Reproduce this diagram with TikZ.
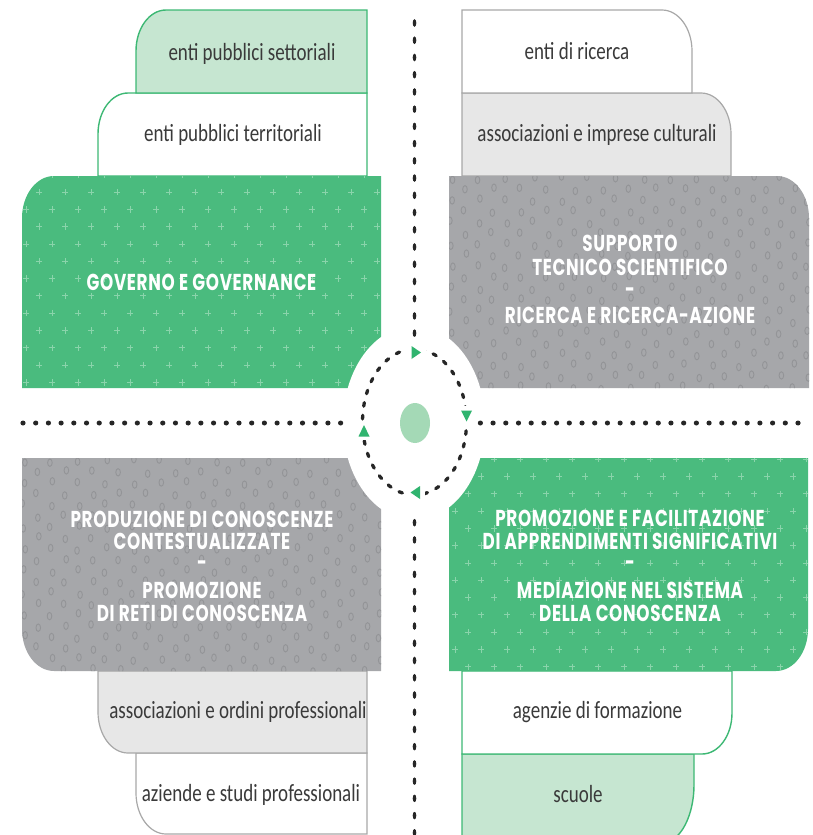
\documentclass[tikz,border=0pt]{standalone}
\usepackage{fontspec}
\setmainfont{Carlito}
\newfontfamily\headfont{Poppins}[LetterSpace=4]
\definecolor{gbig}{HTML}{4ABB7E}
\definecolor{glight}{HTML}{C6E6D1}
\definecolor{gline}{HTML}{3DB874}
\definecolor{graybig}{HTML}{A6A7AA}
\definecolor{graylight}{HTML}{E7E7E7}
\definecolor{grayline}{HTML}{A8A8A8}
\definecolor{txt}{HTML}{3A3A3A}
\definecolor{dotc}{HTML}{262626}
\definecolor{cdot}{HTML}{A4D9B6}
\definecolor{garrow}{HTML}{30B46F}
\definecolor{crossc}{HTML}{8AD4AB}
\definecolor{circc}{HTML}{939497}
\newcommand\myLbl[1]{\scalebox{1}[1.3]{#1}}
\newcommand\myHead[1]{\scalebox{1}[1.37]{#1}}
\newcommand\crossgrid[3]{%
  \foreach \j in {0,...,#3}{
    \pgfmathsetmacro\yy{#2+17.3*\j}
    \pgfmathsetmacro\xo{#1+13*mod(\j,2)}
    \foreach \i in {0,...,14}{
      \pgfmathsetmacro\xx{\xo+26*\i}
      \draw[crossst] (\xx-2.6,\yy) -- (\xx+2.6,\yy) (\xx,\yy-3.2) -- (\xx,\yy+3.2);
    }}}
\newcommand\circgrid[3]{%
  \foreach \j in {0,...,#3}{
    \pgfmathsetmacro\yy{#2+11*\j}
    \pgfmathsetmacro\xo{#1+13.7*mod(\j,2)}
    \foreach \i in {0,...,14}{
      \pgfmathsetmacro\xx{\xo+27.4*\i+1.6*sin(97*\i+131*\j)}
      \pgfmathsetmacro\yj{\yy+1.8*sin(37*\i+59*\j+13*\i*\j)}
      \draw[circst] (\xx,\yj) ellipse [x radius=2.3, y radius=3.7];
    }}}
\begin{document}
\begin{tikzpicture}[x=1pt,y=-1pt,
  gbox/.style={draw=gline,line width=1.4pt},
  graybox/.style={draw=grayline,line width=1.2pt},
  crossst/.style={draw=crossc,line width=0.75pt},
  circst/.style={draw=circc,line width=0.9pt},
  lbl/.style={text=txt,font=\fontsize{19}{22}\selectfont,inner sep=0pt,anchor=base},
  head/.style={text=white,font=\headfont\bfseries\fontsize{16.8}{18}\selectfont,inner sep=0pt,anchor=base},
  vdot/.style={fill=dotc},
  tri/.style={fill=garrow}]
\useasboundingbox (0,0) rectangle (813,835);
\clip (0,0) rectangle (813,835);
% ---------- top left small boxes
\path[gbox,fill=white] (367,93) -- (128,93) .. controls (111.4,93) and (98,111.4) .. (98,134) -- (98,176) -- (367,176) -- cycle;
\path[gbox,fill=glight] (367,10) -- (166,10) .. controls (149.4,10) and (136,28.4) .. (136,51) -- (136,93) -- (367,93) -- cycle;
% ---------- top right small boxes
\path[graybox,fill=graylight] (462,93) -- (701,93) .. controls (717.6,93) and (731,111.4) .. (731,134) -- (731,176) -- (462,176) -- cycle;
\path[graybox,fill=white] (462,10) -- (662,10) .. controls (678.6,10) and (692,28.4) .. (692,51) -- (692,93) -- (462,93) -- cycle;
% ---------- bottom left small boxes
\path[graybox,fill=white] (136,753) -- (367,753) -- (367,834) -- (166,834) .. controls (149.4,834) and (136,815.6) .. (136,793) -- cycle;
\path[graybox,fill=graylight] (98,671) -- (367,671) -- (367,753) -- (128,753) .. controls (111.4,753) and (98,734.6) .. (98,712) -- cycle;
% ---------- bottom right small boxes
\path[gbox,fill=glight] (462,754) -- (694,754) -- (694,785) .. controls (694,815) and (680.6,842) .. (664,842) -- (462,842) -- cycle;
\path[gbox,fill=white] (462,671) -- (732,671) -- (732,713) .. controls (732,735.6) and (718.6,754) .. (702,754) -- (462,754) -- cycle;
% ---------- big boxes
\path[fill=gbig,path picture={\crossgrid{0}{174.7}{13}}] (381,176) -- (54,176) .. controls (36.3,176) and (22,194.8) .. (22,218) -- (22,388) -- (381,388) -- cycle;
\path[fill=graybig,path picture={\circgrid{437.6}{167.3}{21}}] (449,176) -- (777,176) .. controls (794.7,176) and (809,194.8) .. (809,218) -- (809,388) -- (449,388) -- cycle;
\path[fill=graybig,path picture={\circgrid{10}{450}{21}}] (22,458) -- (381,458) -- (381,671) -- (54,671) .. controls (36.3,671) and (22,652.2) .. (22,629) -- cycle;
\path[fill=gbig,path picture={\crossgrid{442}{424.5}{15}}] (449,458) -- (808,458) -- (808,629) .. controls (808,652.2) and (793.7,671) .. (776,671) -- (449,671) -- cycle;
% ---------- centre
\fill[white] (414,423) ellipse [x radius=71, y radius=97];
% dotted axes
\foreach \k in {0,...,18}{\fill[vdot] (414.5,{23+17.23*\k}) ellipse [x radius=1.8, y radius=3.8];}
\foreach \k in {29,...,47}{\fill[vdot] (414.5,{23+17.23*\k}) ellipse [x radius=1.8, y radius=3.8];}
\foreach \k in {0,...,25}{\fill[vdot] ({23+12.705*\k},423) ellipse [x radius=2.6, y radius=2.5];}
\foreach \k in {36,...,61}{\fill[vdot] ({23+12.705*\k},423) ellipse [x radius=2.6, y radius=2.5];}
% dashed cycle
\draw[dotc,line width=3.3pt,line cap=round,dash pattern=on 3.6pt off 9.2pt,dash phase=4pt] (414.5,422) ellipse [x radius=52, y radius=73];
\fill[white] (405,343) rectangle (426,362);
\fill[white] (457,406) rectangle (476,425);
\fill[white] (405,483) rectangle (425,502);
\fill[white] (354,421) rectangle (374,440);
\path[tri] (411.5,346) -- (411.5,359) -- (421,352.5) -- cycle;
\path[tri] (461,410.5) -- (472,410.5) -- (466.5,421.5) -- cycle;
\path[tri] (420,486) -- (420,499) -- (410.5,492.5) -- cycle;
\path[tri] (358.5,436.5) -- (369.5,436.5) -- (364,425) -- cycle;
\fill[cdot] (415,423) ellipse [x radius=15, y radius=20];
% ---------- small labels
\node[lbl] (l1) at (252,60) {\myLbl{enti pubblici settoriali}};
\node[lbl] (l2) at (233,141.7) {\myLbl{enti pubblici territoriali}};
\node[lbl] (l3) at (577,59.3) {\myLbl{enti di ricerca}};
\node[lbl] (l4) at (597,141.7) {\myLbl{associazioni e imprese culturali}};
\node[lbl] (l5) at (238,718.3) {\myLbl{associazioni e ordini professionali}};
\node[lbl] (l6) at (251,801.7) {\myLbl{aziende e studi professionali}};
\node[lbl] (l7) at (597.5,718.3) {\myLbl{agenzie di formazione}};
\node[lbl] (l8) at (578,802) {\myLbl{scuole}};
% ---------- headings
\node[head] (h1) at (201.5,290) {\myHead{GOVERNO E GOVERNANCE}};
\node[head] (h2a) at (630,251.7) {\myHead{SUPPORTO}};
\node[head] (h2b) at (630,275) {\myHead{TECNICO SCIENTIFICO}};
\node[head] (h2c) at (630,297.5) {\myHead{-}};
\node[head] (h2d) at (630,323.3) {\myHead{RICERCA E RICERCA-AZIONE}};
\node[head] (h3a) at (202,527) {\myHead{PRODUZIONE DI CONOSCENZE}};
\node[head] (h3b) at (202,549.5) {\myHead{CONTESTUALIZZATE}};
\node[head] (h3c) at (202,570.5) {\myHead{-}};
\node[head] (h3d) at (202,598.3) {\myHead{PROMOZIONE}};
\node[head] (h3e) at (202,621.7) {\myHead{DI RETI DI CONOSCENZA}};
\node[head] (h4a) at (630,526.5) {\myHead{PROMOZIONE E FACILITAZIONE}};
\node[head] (h4b) at (630,549.5) {\myHead{DI APPRENDIMENTI SIGNIFICATIVI}};
\node[head] (h4c) at (630,570.5) {\myHead{-}};
\node[head] (h4d) at (630,598.3) {\myHead{MEDIAZIONE NEL SISTEMA}};
\node[head] (h4e) at (630,621.7) {\myHead{DELLA CONOSCENZA}};
\end{tikzpicture}
\end{document}
